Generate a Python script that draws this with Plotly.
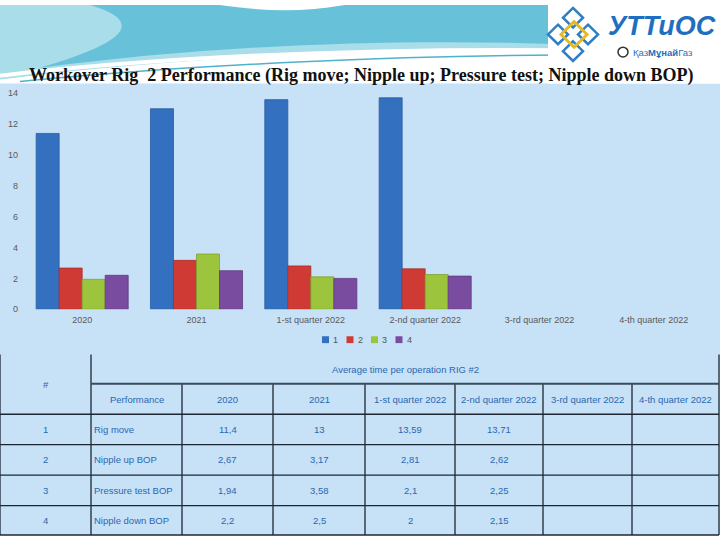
import plotly.graph_objects as go

# ---------------- data ----------------
categories = ["2020", "2021", "1-st quarter 2022", "2-nd quarter 2022", "3-rd quarter 2022", "4-th quarter 2022"]
series_names = ["1", "2", "3", "4"]
operations = ["Rig move", "Nipple up BOP", "Pressure test BOP", "Nipple down BOP"]
rig_move = [11.4, 13, 13.59, 13.71, None, None]
nipple_up = [2.67, 3.17, 2.81, 2.62, None, None]
pressure_test = [1.94, 3.58, 2.1, 2.25, None, None]
nipple_down = [2.2, 2.5, 2, 2.15, None, None]
series_values = [rig_move, nipple_up, pressure_test, nipple_down]
table_col_headers = ["Performance", "2020", "2021", "1-st quarter 2022", "2-nd quarter 2022",
                     "3-rd quarter 2022", "4-th quarter 2022"]
table_title = "Average time per operation RIG #2"
title_text = "Workover Rig  2 Performance (Rig move; Nipple up; Pressure test; Nipple down BOP)"

colors = ["#3370bf", "#cf3b34", "#9cc43c", "#7a4ca0"]
line_colors = ["#2a5c9e", "#a82d28", "#7fa22e", "#5f3a80"]

W, H = 720, 540


def X(px):
    return px / W


def Y(py):
    return 1 - py / H


def path(cmds):
    out = []
    for c in cmds:
        if isinstance(c, str):
            out.append(c)
        else:
            out.append(f"{X(c[0]):.5f},{Y(c[1]):.5f}")
    return " ".join(out)


fig = go.Figure()
for name, vals, col, lc in zip(series_names, series_values, colors, line_colors):
    fig.add_trace(go.Bar(x=categories, y=vals, name=name, marker=dict(color=col, line=dict(color=lc, width=0.8)),
                         showlegend=False))

shapes = []
annotations = []

# light blue body background
shapes.append(dict(type="rect", xref="paper", yref="paper", x0=0, x1=1, y0=0, y1=Y(80),
                   fillcolor="#c7e1f7", line=dict(width=0), layer="below"))

# header waves
shapes.append(dict(type="path", xref="paper", yref="paper", layer="below",
                   path=path(["M", (0, 0), "L", (560, 0), "L", (560, 48), "C", (420, 44), (200, 50), (0, 76), "Z"]),
                   fillcolor="#a9dde9", line=dict(width=0)))
shapes.append(dict(type="path", xref="paper", yref="paper", layer="below",
                   path=path(["M", (90, 0), "L", (560, 0), "L", (560, 40), "C", (400, 34), (220, 40), (40, 64),
                              "C", (120, 40), (150, 18), (90, 0), "Z"]),
                   fillcolor="#5cbdd6", opacity=0.85, line=dict(width=0)))
shapes.append(dict(type="path", xref="paper", yref="paper", layer="below",
                   path=path(["M", (220, 0), "C", (260, 6), (300, 8), (345, 0), "Z"]),
                   fillcolor="white", line=dict(width=0)))
shapes.append(dict(type="path", xref="paper", yref="paper", layer="below",
                   path=path(["M", (0, 72), "C", (150, 54), (350, 44), (560, 46)]),
                   line=dict(color="white", width=4)))
shapes.append(dict(type="path", xref="paper", yref="paper", layer="below",
                   path=path(["M", (20, 78), "C", (200, 60), (400, 52), (560, 51)]),
                   line=dict(color="#4fb2cc", width=1.5)))

# logo area (white)
shapes.append(dict(type="rect", xref="paper", yref="paper", layer="below",
                   x0=X(548), x1=1, y0=Y(80), y1=1, fillcolor="white", line=dict(width=0)))


def diamond(cx, cy, r, color, width):
    return dict(type="path", xref="paper", yref="paper",
                path=path(["M", (cx, cy - r), "L", (cx + r, cy), "L", (cx, cy + r), "L", (cx - r, cy), "Z"]),
                line=dict(color=color, width=width), fillcolor="rgba(0,0,0,0)")


shapes.append(diamond(573, 13, 10, "#2d7fc4", 2.5))
shapes.append(diamond(558, 30, 10, "#2d7fc4", 2.5))
shapes.append(diamond(573, 47, 10, "#2d7fc4", 2.5))
shapes.append(diamond(588, 30, 10, "#2d7fc4", 2.5))
shapes.append(diamond(574, 30, 13, "#e8b828", 3))
shapes.append(dict(type="circle", xref="paper", yref="paper", x0=X(618), x1=X(628), y0=Y(53), y1=Y(43),
                   line=dict(color="#333", width=1.5), fillcolor="white"))

annotations.append(dict(text="<b><i>УТТиОС</i></b>", x=X(662), y=Y(21), xref="paper", yref="paper",
                        showarrow=False, xanchor="center", yanchor="middle",
                        font=dict(family="Liberation Sans", size=27, color="#1f6fc0")))
annotations.append(dict(text="Қаз<b>Мұнай</b>Газ", x=X(631), y=Y(48), xref="paper", yref="paper",
                        showarrow=False, xanchor="left", yanchor="middle",
                        font=dict(family="Liberation Sans", size=9.5, color="#1f6fc0")))

# title
annotations.append(dict(text="<b>" + title_text + "</b>", x=X(361), y=Y(72), xref="paper", yref="paper",
                        showarrow=False, xanchor="center", yanchor="middle",
                        font=dict(family="Liberation Serif, Times New Roman", size=18, color="#111")))

# manual legend
for i, (name, col) in enumerate(zip(series_names, colors)):
    x0 = 322 + i * 24.5
    shapes.append(dict(type="rect", xref="paper", yref="paper", x0=X(x0), x1=X(x0 + 7), y0=Y(344.5), y1=Y(337.5),
                       fillcolor=col, line=dict(width=0)))
    annotations.append(dict(text=name, x=X(x0 + 9), y=Y(341), xref="paper", yref="paper", showarrow=False,
                            xanchor="left", yanchor="middle",
                            font=dict(family="Liberation Sans", size=9, color="#555")))

# ---------------- table ----------------
col_edges = [0, 91, 182, 273, 365, 455, 543, 632, 719]
row_edges = [356, 386, 417, 448, 479, 510, 540]
tcolor = "#2a68b0"
lc = "#1c2733"


def vline(x, y0, y1, w=1.3, c=lc):
    shapes.append(dict(type="line", xref="paper", yref="paper", x0=X(x), x1=X(x), y0=Y(y0), y1=Y(y1),
                       line=dict(color=c, width=w)))


def hline(y, x0, x1, w=1.3, c=lc):
    shapes.append(dict(type="line", xref="paper", yref="paper", x0=X(x0), x1=X(x1), y0=Y(y), y1=Y(y),
                       line=dict(color=c, width=w)))


for i, x in enumerate(col_edges):
    if i in (0, 1, len(col_edges) - 1):
        vline(x, row_edges[0], row_edges[-1])
    else:
        vline(x, row_edges[1], row_edges[-1])
hline(row_edges[1], col_edges[1], col_edges[-1], w=2, c="#3b4b5c")
for y in row_edges[2:]:
    hline(y, col_edges[0], col_edges[-1], w=1.6 if y == row_edges[2] else 1.3)


def cell_text(txt, cx, cy, anchor="center"):
    annotations.append(dict(text=txt, x=X(cx), y=Y(cy), xref="paper", yref="paper", showarrow=False,
                            xanchor=anchor, yanchor="middle",
                            font=dict(family="Liberation Sans", size=9.5, color=tcolor)))


def fmt(v):
    return "" if v is None else f"{v:g}".replace(".", ",")


cell_text("#", (col_edges[0] + col_edges[1]) / 2, (row_edges[0] + row_edges[2]) / 2)
cell_text(table_title, (col_edges[1] + col_edges[-1]) / 2, (row_edges[0] + row_edges[1]) / 2 + 0.5)
for j, h in enumerate(table_col_headers):
    cell_text(h, (col_edges[j + 1] + col_edges[j + 2]) / 2, (row_edges[1] + row_edges[2]) / 2)
for r, (op, vals) in enumerate(zip(operations, series_values)):
    cy = (row_edges[r + 2] + row_edges[r + 3]) / 2
    cell_text(str(r + 1), (col_edges[0] + col_edges[1]) / 2, cy)
    cell_text(op, col_edges[1] + 1, cy, anchor="left")
    for c, v in enumerate(vals):
        cell_text(fmt(v), (col_edges[c + 2] + col_edges[c + 3]) / 2, cy)

fig.update_layout(
    width=W, height=H, margin=dict(l=0, r=0, t=0, b=0),
    paper_bgcolor="white", plot_bgcolor="rgba(0,0,0,0)",
    barmode="group", bargap=0.195, bargroupgap=0,
    xaxis=dict(domain=[X(25), X(711)], showgrid=False, showline=False, zeroline=False,
               tickfont=dict(family="Liberation Sans", size=9, color="#5a5a5a"), ticks="", ticklabelstandoff=4),
    yaxis=dict(domain=[Y(310), Y(90)], range=[0, 14], dtick=2, showgrid=False, showline=False, zeroline=False,
               tickfont=dict(family="Liberation Sans", size=9, color="#5a5a5a"), ticks="", ticklabelstandoff=6),
    shapes=shapes, annotations=annotations, showlegend=False,
)

fig.write_html("out.html", config={"displayModeBar": False},
               post_script="document.body.style.margin='0';document.body.style.overflow='hidden';")
